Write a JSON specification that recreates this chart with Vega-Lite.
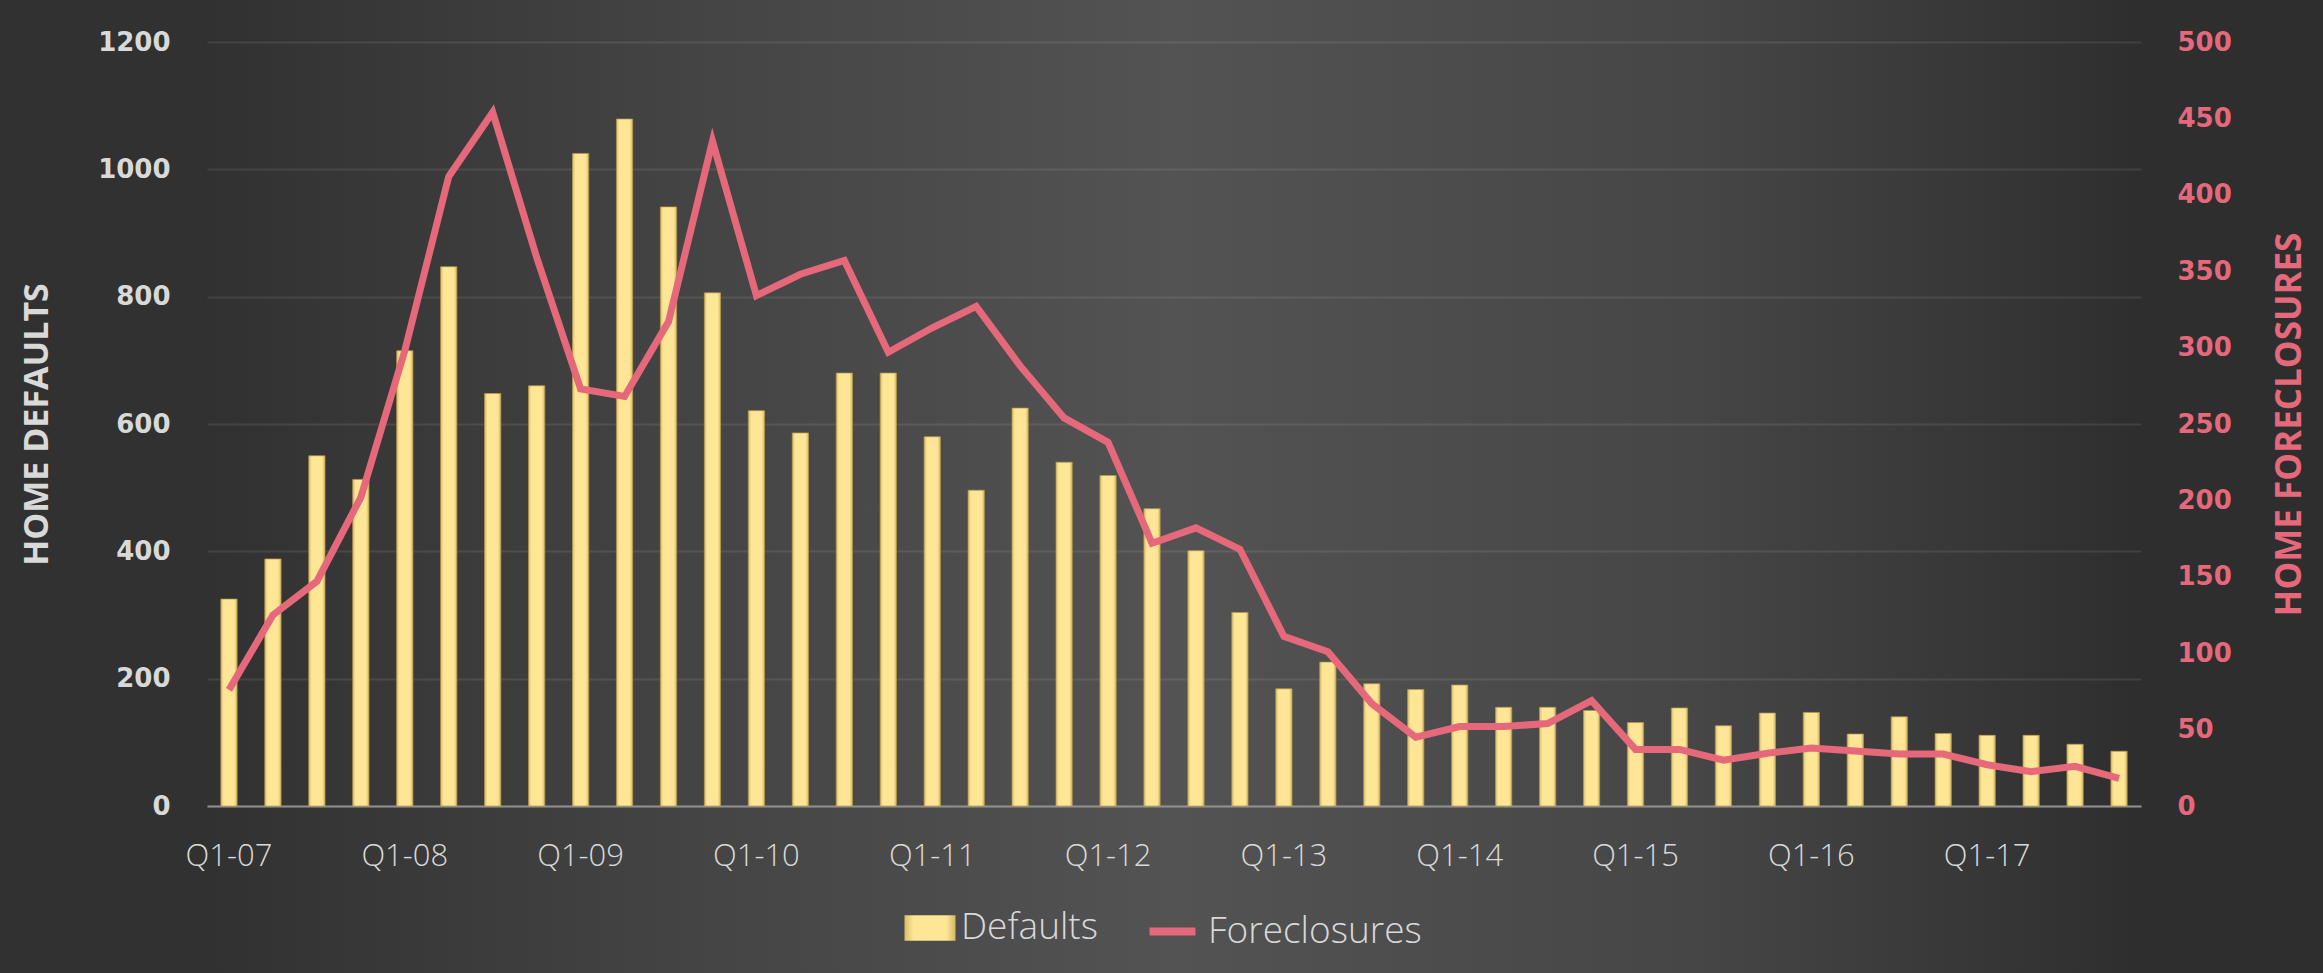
{
  "$schema": "https://vega.github.io/schema/vega-lite/v6.json",
  "autosize": {"type": "none"},
  "padding": {"left": 207, "top": 42, "right": 182, "bottom": 167},
  "width": 1934,
  "height": 764,
  "background": "#303030",
  "view": {
    "fill": {"gradient": "linear", "x1": 0, "y1": 0, "x2": 1, "y2": 0, "stops": [
      {"offset": 0, "color": "#313131"},
      {"offset": 0.25, "color": "#444444"},
      {"offset": 0.5, "color": "#535353"},
      {"offset": 0.77, "color": "#464646"},
      {"offset": 1, "color": "#2e2e2e"}
    ]},
    "stroke": {"gradient": "linear", "x1": 0, "y1": 0, "x2": 1, "y2": 0, "stops": [
      {"offset": 0, "color": "#313131"},
      {"offset": 0.25, "color": "#444444"},
      {"offset": 0.5, "color": "#535353"},
      {"offset": 0.77, "color": "#464646"},
      {"offset": 1, "color": "#2e2e2e"}
    ]},
    "strokeWidth": 440
  },
  "data": {"values": [
    {"q": "Q1-07", "defaults": 325, "foreclosures": 76},
    {"q": "Q2-07", "defaults": 388, "foreclosures": 125},
    {"q": "Q3-07", "defaults": 550, "foreclosures": 147},
    {"q": "Q4-07", "defaults": 513, "foreclosures": 202},
    {"q": "Q1-08", "defaults": 715, "foreclosures": 298},
    {"q": "Q2-08", "defaults": 847, "foreclosures": 412},
    {"q": "Q3-08", "defaults": 648, "foreclosures": 454},
    {"q": "Q4-08", "defaults": 660, "foreclosures": 359},
    {"q": "Q1-09", "defaults": 1025, "foreclosures": 273},
    {"q": "Q2-09", "defaults": 1079, "foreclosures": 268},
    {"q": "Q3-09", "defaults": 941, "foreclosures": 317},
    {"q": "Q4-09", "defaults": 806, "foreclosures": 435},
    {"q": "Q1-10", "defaults": 621, "foreclosures": 334},
    {"q": "Q2-10", "defaults": 586, "foreclosures": 348},
    {"q": "Q3-10", "defaults": 680, "foreclosures": 357},
    {"q": "Q4-10", "defaults": 680, "foreclosures": 297},
    {"q": "Q1-11", "defaults": 580, "foreclosures": 313},
    {"q": "Q2-11", "defaults": 496, "foreclosures": 327},
    {"q": "Q3-11", "defaults": 625, "foreclosures": 288},
    {"q": "Q4-11", "defaults": 540, "foreclosures": 254},
    {"q": "Q1-12", "defaults": 519, "foreclosures": 238},
    {"q": "Q2-12", "defaults": 467, "foreclosures": 172},
    {"q": "Q3-12", "defaults": 401, "foreclosures": 182},
    {"q": "Q4-12", "defaults": 304, "foreclosures": 168},
    {"q": "Q1-13", "defaults": 184, "foreclosures": 111},
    {"q": "Q2-13", "defaults": 226, "foreclosures": 101},
    {"q": "Q3-13", "defaults": 192, "foreclosures": 67},
    {"q": "Q4-13", "defaults": 183, "foreclosures": 45},
    {"q": "Q1-14", "defaults": 190, "foreclosures": 52},
    {"q": "Q2-14", "defaults": 155, "foreclosures": 52},
    {"q": "Q3-14", "defaults": 155, "foreclosures": 54},
    {"q": "Q4-14", "defaults": 150, "foreclosures": 69},
    {"q": "Q1-15", "defaults": 131, "foreclosures": 37},
    {"q": "Q2-15", "defaults": 154, "foreclosures": 37},
    {"q": "Q3-15", "defaults": 126, "foreclosures": 30},
    {"q": "Q4-15", "defaults": 146, "foreclosures": 34.5},
    {"q": "Q1-16", "defaults": 147, "foreclosures": 38},
    {"q": "Q2-16", "defaults": 113, "foreclosures": 36},
    {"q": "Q3-16", "defaults": 140, "foreclosures": 34},
    {"q": "Q4-16", "defaults": 114, "foreclosures": 34},
    {"q": "Q1-17", "defaults": 111, "foreclosures": 27},
    {"q": "Q2-17", "defaults": 111, "foreclosures": 22.5},
    {"q": "Q3-17", "defaults": 97, "foreclosures": 26},
    {"q": "Q4-17", "defaults": 86, "foreclosures": 18}
  ]},
  "encoding": {
    "x": {
      "field": "q", "type": "ordinal", "sort": null,
      "scale": {"paddingInner": 0.63, "paddingOuter": 0.315},
      "axis": {
        "title": null,
        "values": ["Q1-07", "Q1-08", "Q1-09", "Q1-10", "Q1-11", "Q1-12", "Q1-13", "Q1-14", "Q1-15", "Q1-16", "Q1-17"],
        "labelAngle": 0,
        "labelFont": "Open Sans",
        "labelFontSize": 31,
        "labelFontWeight": 300,
        "labelColor": "#d9d9d9",
        "labelPadding": 35,
        "ticks": false,
        "domain": true,
        "domainColor": "#8f8f8f",
        "domainWidth": 2,
        "grid": false
      }
    }
  },
  "layer": [
    {
      "mark": {
        "type": "bar", "stroke": "#b89b4c", "strokeWidth": 1, "strokeOpacity": 0.7,
        "fill": {"gradient": "linear", "x1": 0, "y1": 0, "x2": 1, "y2": 0, "stops": [
          {"offset": 0, "color": "#d9bd68"},
          {"offset": 0.18, "color": "#ffe596"},
          {"offset": 0.82, "color": "#ffe596"},
          {"offset": 1, "color": "#d4b762"}
        ]}
      },
      "encoding": {
        "y": {
          "field": "defaults", "type": "quantitative",
          "scale": {"domain": [0, 1200], "nice": false},
          "axis": {
            "orient": "left",
            "values": [0, 200, 400, 600, 800, 1000, 1200],
            "format": "d",
            "grid": true,
            "gridColor": "#ffffff",
            "gridOpacity": 0.09,
            "gridWidth": 2,
            "domain": false,
            "ticks": false,
            "labelFont": "DejaVu Sans",
            "labelFontWeight": "bold",
            "labelFontSize": 26,
            "labelColor": "#d9d9d9",
            "labelPadding": 37,
            "title": "HOME DEFAULTS",
            "titleFont": "Open Sans",
            "titleFontSize": 34,
            "titleFontWeight": "bold",
            "titleColor": "#d9d9d9",
            "titleX": -170,
            "titleY": 382,
            "titleAngle": -90,
            "titleAlign": "center",
            "titleBaseline": "middle"
          }
        },
        "opacity": {
          "datum": "Defaults",
          "scale": {"domain": ["Defaults"], "range": [1]},
          "legend": {
            "orient": "none",
            "legendX": 697,
            "legendY": 860,
            "title": null,
            "padding": 0,
            "symbolType": "M-1,-0.5H1V0.5H-1Z",
            "symbolSize": 2601,
            "symbolFillColor": "#ffe596",
            "symbolStrokeColor": "#b89b4c",
            "symbolStrokeWidth": 1,
            "labelFont": "Open Sans",
            "labelFontSize": 37,
            "labelFontWeight": 300,
            "labelColor": "#d9d9d9",
            "labelOffset": 5,
            "labelLimit": 0
          }
        }
      }
    },
    {
      "mark": {"type": "line", "strokeWidth": 7, "strokeJoin": "miter"},
      "encoding": {
        "y": {
          "field": "foreclosures", "type": "quantitative",
          "scale": {"domain": [0, 500], "nice": false},
          "axis": {
            "orient": "right",
            "values": [0, 50, 100, 150, 200, 250, 300, 350, 400, 450, 500],
            "format": "d",
            "grid": false,
            "domain": false,
            "ticks": false,
            "labelFont": "DejaVu Sans",
            "labelFontWeight": "bold",
            "labelFontSize": 26,
            "labelColor": "#e6687b",
            "labelPadding": 36,
            "title": "HOME FORECLOSURES",
            "titleFont": "Open Sans",
            "titleFontSize": 35,
            "titleFontWeight": "bold",
            "titleColor": "#e6687b",
            "titleX": 148,
            "titleY": 382,
            "titleAngle": -90,
            "titleAlign": "center",
            "titleBaseline": "middle"
          }
        },
        "stroke": {
          "datum": "Foreclosures",
          "scale": {"domain": ["Foreclosures"], "range": ["#e6687b"]},
          "legend": {
            "orient": "none",
            "legendX": 936,
            "legendY": 860,
            "title": null,
            "padding": 0,
            "symbolType": "M-0.9,0H0.9",
            "symbolSize": 2601,
            "symbolStrokeWidth": 8,
            "labelFont": "Open Sans",
            "labelFontSize": 37,
            "labelFontWeight": 300,
            "labelColor": "#d9d9d9",
            "labelOffset": 6,
            "labelLimit": 0
          }
        }
      }
    }
  ],
  "resolve": {"scale": {"y": "independent"}, "axis": {"y": "independent"}}
}
